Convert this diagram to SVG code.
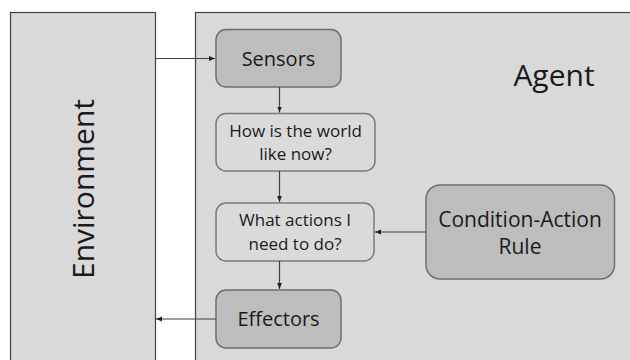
<svg xmlns="http://www.w3.org/2000/svg" width="630" height="360" viewBox="0 0 630 360">
<defs>
<style>
.panel{fill:#d9d9d9;stroke:#404040;stroke-width:1.2}
.dark{fill:#bdbdbd;stroke:#6f6f6f;stroke-width:1.5}
.light{fill:#dadada;stroke:#7a7a7a;stroke-width:1.5}
text{font-family:"Open Sans","Noto Sans","DejaVu Sans",sans-serif;fill:#1a1a1a;text-anchor:middle}
.conn{stroke:#404040;stroke-width:1.2;fill:none;marker-end:url(#ah)}
</style>
<marker id="ah" viewBox="0 0 10 10" refX="10" refY="5" markerWidth="6" markerHeight="6" orient="auto" markerUnits="userSpaceOnUse">
<path d="M0,1 L10,5 L0,9 z" fill="#202020"/>
</marker>
</defs>
<rect width="630" height="360" fill="#ffffff"/>
<g id="environment">
<rect class="panel" x="10.5" y="12.5" width="145" height="360"/>
<text x="0" y="0" font-size="30" transform="translate(94,189) rotate(-90)">Environment</text>
</g>
<g id="agent">
<rect class="panel" x="195.5" y="12.5" width="450" height="360"/>
<text x="554" y="86" font-size="30">Agent</text>
</g>
<g id="sensors">
<rect class="dark" x="216" y="29.5" width="125" height="57.5" rx="10"/>
<text x="278.5" y="66" font-size="20">Sensors</text>
</g>
<g id="world">
<rect class="light" x="216" y="113.5" width="159" height="57.5" rx="10"/>
<text x="295.5" y="137" font-size="17">How is the world</text>
<text x="295.5" y="160" font-size="17">like now?</text>
</g>
<g id="actions">
<rect class="light" x="216" y="203" width="158" height="58" rx="10"/>
<text x="295" y="226" font-size="17">What actions I</text>
<text x="295" y="250" font-size="17">need to do?</text>
</g>
<g id="effectors">
<rect class="dark" x="216" y="290" width="125" height="58" rx="10"/>
<text x="278.5" y="326" font-size="20">Effectors</text>
</g>
<g id="rule">
<rect class="dark" x="426" y="185" width="188.5" height="94" rx="14"/>
<text x="520" y="227" font-size="21">Condition-Action</text>
<text x="520" y="254" font-size="21">Rule</text>
</g>
<g id="connectors">
<line class="conn" x1="155.5" y1="58.5" x2="215" y2="58.5"/>
<line class="conn" x1="279.5" y1="87" x2="279.5" y2="112.5"/>
<line class="conn" x1="279.5" y1="171" x2="279.5" y2="202"/>
<line class="conn" x1="279.5" y1="261" x2="279.5" y2="289"/>
<line class="conn" x1="426" y1="232" x2="375" y2="232"/>
<line class="conn" x1="216" y1="319" x2="156" y2="319"/>
</g>
</svg>
